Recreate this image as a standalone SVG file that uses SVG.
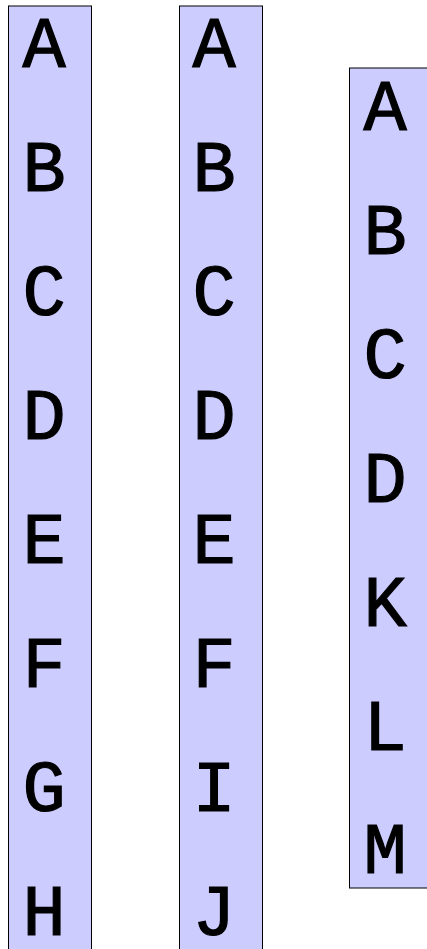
<svg xmlns="http://www.w3.org/2000/svg" width="427" height="949" viewBox="0 0 427 949">
<style>
.col{fill:#ccccff;stroke:#000;stroke-width:1}
.t{font-family:"Liberation Mono","DejaVu Sans Mono",monospace;font-size:72px;fill:#000;text-anchor:middle;stroke:#000;stroke-width:1.2}
</style>
<rect width="427" height="949" fill="#fff"/>
<g id="col1">
<rect class="col" x="8.5" y="6" width="83" height="960"/>
<text class="t" x="44" y="67">A</text>
<text class="t" x="44" y="191">B</text>
<text class="t" x="44" y="315">C</text>
<text class="t" x="44" y="439">D</text>
<text class="t" x="44" y="563">E</text>
<text class="t" x="44" y="687">F</text>
<text class="t" x="44" y="811">G</text>
<text class="t" x="44" y="935">H</text>
</g>
<g id="col2">
<rect class="col" x="179.5" y="6" width="83" height="960"/>
<text class="t" x="214" y="67">A</text>
<text class="t" x="214" y="191">B</text>
<text class="t" x="214" y="315">C</text>
<text class="t" x="214" y="439">D</text>
<text class="t" x="214" y="563">E</text>
<text class="t" x="214" y="687">F</text>
<text class="t" x="214" y="811">I</text>
<text class="t" x="214" y="935">J</text>
</g>
<g id="col3">
<rect class="col" x="349.5" y="68" width="83" height="820"/>
<text class="t" x="385" y="130">A</text>
<text class="t" x="385" y="254">B</text>
<text class="t" x="385" y="378">C</text>
<text class="t" x="385" y="502">D</text>
<text class="t" x="385" y="626">K</text>
<text class="t" x="385" y="750">L</text>
<text class="t" x="385" y="873">M</text>
</g>
</svg>
